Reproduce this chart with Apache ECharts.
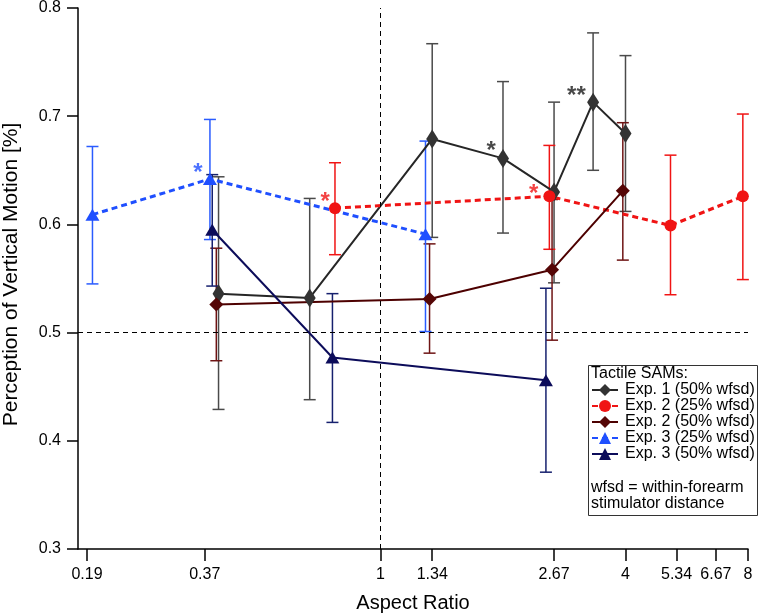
<!DOCTYPE html>
<html>
<head>
<meta charset="utf-8">
<script src="https://cdn.jsdelivr.net/npm/echarts@6/dist/echarts.min.js"></script>
<style>
  html, body { margin: 0; padding: 0; background: #fff; }
  #main { width: 760px; height: 614px; }
</style>
</head>
<body>
<div id="main"></div>
<script>
// x tick labels on the log axis
const xTicks = [0.19, 0.37, 1, 1.34, 2.67, 4, 5.34, 6.67, 8]

// Exp. 1 (50% wfsd)
const exp1X = [0.40, 0.67, 1.34, 2.0, 2.67, 3.33, 4.0]
const exp1Y = [0.536, 0.532, 0.679, 0.661, 0.630, 0.713, 0.684]
const exp1Lo = [0.429, 0.438, 0.588, 0.592, 0.546, 0.650, 0.612]
const exp1Hi = [0.644, 0.624, 0.767, 0.732, 0.713, 0.777, 0.756]

// Exp. 2 (25% wfsd)
const exp2aX = [0.773, 2.60, 5.16, 7.77]
const exp2aY = [0.615, 0.626, 0.599, 0.626]
const exp2aLo = [0.572, 0.577, 0.535, 0.549]
const exp2aHi = [0.657, 0.673, 0.664, 0.702]

// Exp. 2 (50% wfsd)
const exp2bX = [0.395, 1.32, 2.64, 3.94]
const exp2bY = [0.526, 0.531, 0.558, 0.631]
const exp2bLo = [0.474, 0.481, 0.493, 0.567]
const exp2bHi = [0.578, 0.582, 0.623, 0.694]

// Exp. 3 (25% wfsd)
const exp3aX = [0.196, 0.381, 1.29]
const exp3aY = [0.609, 0.642, 0.591]
const exp3aLo = [0.545, 0.586, 0.501]
const exp3aHi = [0.672, 0.697, 0.677]

// Exp. 3 (50% wfsd)
const exp3bX = [0.386, 0.762, 2.55]
const exp3bY = [0.595, 0.477, 0.456]
const exp3bLo = [0.543, 0.417, 0.371]
const exp3bHi = [0.646, 0.536, 0.541]

// significance marks: [x, y, text]
const starsBlack = [[1.87, 0.673, '*'], [3.03, 0.724, '**']]
const starsRed = [[0.731, 0.626, '*'], [2.38, 0.633, '*']]
const starsBlue = [[0.356, 0.653, '*']]

const FONT = 'Liberation Sans, Arial, Helvetica, sans-serif'

const zip2 = (xs, ys) => xs.map((x, i) => [x, ys[i]])
const zip3 = (xs, lo, hi) => xs.map((x, i) => [x, lo[i], hi[i]])

function errRender (color) {
  return function (params, api) {
    const x = api.value(0)
    const lo = api.coord([x, api.value(1)])
    const hi = api.coord([x, api.value(2)])
    const w = 6
    const st = { stroke: color, lineWidth: 1.5 }
    return {
      type: 'group',
      children: [
        { type: 'line', shape: { x1: lo[0], y1: lo[1], x2: hi[0], y2: hi[1] }, style: st },
        { type: 'line', shape: { x1: hi[0] - w, y1: hi[1], x2: hi[0] + w, y2: hi[1] }, style: st },
        { type: 'line', shape: { x1: lo[0] - w, y1: lo[1], x2: lo[0] + w, y2: lo[1] }, style: st }
      ]
    }
  }
}

function errSeries (xs, lo, hi, color) {
  return {
    type: 'custom',
    renderItem: errRender(color),
    data: zip3(xs, lo, hi),
    encode: { x: 0, y: [1, 2] },
    z: 1,
    silent: true
  }
}

function starSeries (marks, color) {
  return {
    type: 'scatter',
    data: marks.map(m => ({ value: [m[0], m[1]], name: m[2] })),
    symbolSize: 0,
    z: 5,
    silent: true,
    label: {
      show: true,
      position: 'inside',
      formatter: p => p.name,
      color: color,
      fontFamily: FONT,
      fontSize: 24,
      fontWeight: 'bold',
      offset: [0, 6]
    }
  }
}

var chartDom = document.getElementById('main')
var myChart = echarts.init(chartDom)
var option

option = {
  animation: false,
  backgroundColor: '#fff',
  grid: { left: 78, right: 12, top: 8, bottom: 65, outerBoundsMode: 'none', containLabel: false },
  xAxis: {
    type: 'log',
    logBase: 10,
    min: 0.1806,
    max: 8,
    name: 'Aspect Ratio',
    nameLocation: 'middle',
    nameGap: 44,
    nameTextStyle: { fontFamily: FONT, fontSize: 20, color: '#000' },
    axisLine: { show: true, lineStyle: { color: '#000', width: 1.5 } },
    axisTick: { show: true, length: 12, customValues: xTicks, lineStyle: { color: '#000', width: 1.5 } },
    axisLabel: {
      customValues: xTicks,
      fontFamily: FONT,
      fontSize: 16,
      color: '#000',
      margin: 18,
      formatter: v => {
        let best = xTicks[0]
        xTicks.forEach(t => { if (Math.abs(t - v) < Math.abs(best - v)) best = t })
        return String(best)
      }
    },
    splitLine: { show: false },
    minorTick: { show: false }
  },
  yAxis: {
    type: 'value',
    min: 0.3,
    max: 0.8,
    interval: 0.1,
    name: 'Perception of Vertical Motion [%]',
    nameLocation: 'middle',
    nameGap: 56,
    nameTextStyle: { fontFamily: FONT, fontSize: 21, color: '#000', padding: [0, 0, 0, 8] },
    axisLine: { show: true, lineStyle: { color: '#000', width: 1.5 } },
    axisTick: { show: true, length: 11, lineStyle: { color: '#000', width: 1.5 } },
    axisLabel: {
      fontFamily: FONT,
      fontSize: 16,
      color: '#000',
      margin: 17,
      formatter: v => v.toFixed(1)
    },
    splitLine: { show: false }
  },
  legend: {
    orient: 'vertical',
    left: 591,
    top: 382,
    padding: 0,
    itemGap: 0,
    itemWidth: 26,
    itemHeight: 15,
    selectedMode: false,
    z: 10,
    textStyle: { fontFamily: FONT, fontSize: 16, lineHeight: 16, color: '#000', padding: [0, 0, 0, 2] },
    data: ['Exp. 1 (50% wfsd)', 'Exp. 2 (25% wfsd)', 'Exp. 2 (50% wfsd)', 'Exp. 3 (25% wfsd)', 'Exp. 3 (50% wfsd)']
  },
  graphic: [
    {
      type: 'rect',
      shape: { x: 588.5, y: 365.5, width: 169, height: 150 },
      style: { fill: '#fff', stroke: '#333', lineWidth: 1 },
      z: 0
    },
    {
      type: 'text',
      left: 591,
      top: 366,
      z: 100,
      style: { text: 'Tactile SAMs:', font: '16px ' + FONT, fill: '#000' }
    },
    {
      type: 'text',
      left: 591,
      top: 480,
      z: 100,
      style: { text: 'wfsd = within-forearm\nstimulator distance', font: '16px ' + FONT, lineHeight: 16, fill: '#000' }
    }
  ],
  series: [
    errSeries(exp1X, exp1Lo, exp1Hi, '#4a4a4a'),
    errSeries(exp2aX, exp2aLo, exp2aHi, '#f01414'),
    errSeries(exp2bX, exp2bLo, exp2bHi, '#6e1414'),
    errSeries(exp3aX, exp3aLo, exp3aHi, '#2a5cff'),
    errSeries(exp3bX, exp3bLo, exp3bHi, '#16206e'),
    {
      name: 'Exp. 1 (50% wfsd)',
      type: 'line',
      data: zip2(exp1X, exp1Y),
      symbol: 'diamond',
      symbolSize: [12, 19],
      lineStyle: { color: '#262626', width: 2 },
      itemStyle: { color: '#333333' },
      z: 3,
      markLine: {
        silent: true,
        symbol: 'none',
        label: { show: false },
        lineStyle: { color: '#000', type: [5, 4], width: 1 },
        data: [{ xAxis: 1 }, { yAxis: 0.5 }]
      }
    },
    {
      name: 'Exp. 2 (25% wfsd)',
      type: 'line',
      data: zip2(exp2aX, exp2aY),
      symbol: 'circle',
      symbolSize: 12,
      lineStyle: { color: '#f01414', width: 3, type: [6, 4] },
      itemStyle: { color: '#f01414' },
      z: 3
    },
    {
      name: 'Exp. 2 (50% wfsd)',
      type: 'line',
      data: zip2(exp2bX, exp2bY),
      symbol: 'diamond',
      symbolSize: [14, 14],
      lineStyle: { color: '#4d0000', width: 2 },
      itemStyle: { color: '#550606' },
      z: 3
    },
    {
      name: 'Exp. 3 (25% wfsd)',
      type: 'line',
      data: zip2(exp3aX, exp3aY),
      symbol: 'triangle',
      symbolSize: [14, 12],
      lineStyle: { color: '#1f4fff', width: 3, type: [6, 4] },
      itemStyle: { color: '#1f4fff' },
      z: 3
    },
    {
      name: 'Exp. 3 (50% wfsd)',
      type: 'line',
      data: zip2(exp3bX, exp3bY),
      symbol: 'triangle',
      symbolSize: [14, 12],
      lineStyle: { color: '#0c0c5a', width: 2 },
      itemStyle: { color: '#0c0c5a' },
      z: 3
    },
    starSeries(starsBlack, '#1a1a1a'),
    starSeries(starsRed, '#f01414'),
    starSeries(starsBlue, '#1f4fff')
  ]
}

option && myChart.setOption(option)
</script>
</body>
</html>
